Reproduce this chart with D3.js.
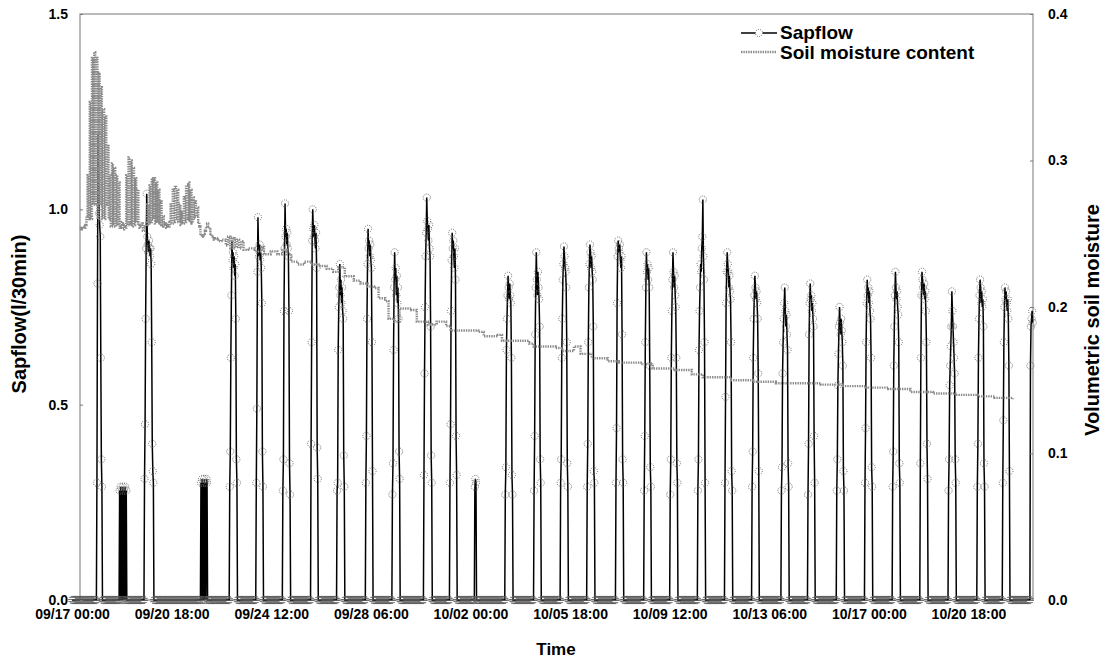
<!DOCTYPE html>
<html><head><meta charset="utf-8">
<script src="https://cdn.jsdelivr.net/npm/d3@7"></script>
<style>
body{margin:0;background:#fff}
svg{display:block}
text{font-family:"Liberation Sans",Arial,sans-serif;font-weight:bold;fill:#000}
</style>
</head><body><svg id="c" width="1108" height="665"></svg>
<script>
// ---------- data ----------
const xTickLabels = ["09/17 00:00","09/20 18:00","09/24 12:00","09/28 06:00","10/02 00:00",
                     "10/05 18:00","10/09 12:00","10/13 06:00","10/17 00:00","10/20 18:00"];
const yLeftTicks = [0.0, 0.5, 1.0, 1.5];
const yRightTicks = [0.0, 0.1, 0.2, 0.3, 0.4];
const startStamp = "09/17 00:00";
const axisStartHour = 7.2;        // left edge of the plot, hours after 09/17 00:00
const endHour = 868.3;            // right edge / last reading

// sapflow: daytime half-hourly readings (l/30min); hour of first reading; all other readings = 0
const sapStartHours = [22.5, 43, 65.5, 116.5, 142.5, 166.5, 190.5, 216, 239.5, 265.5, 289.5, 318, 341.5, 364,
  391.5, 417.5, 441.5, 465.5, 491.5, 517, 540.5, 565.5, 590, 614.5, 641, 665, 691, 716.5, 741.5, 766.5, 792, 818, 841, 866];
const sapDayValues = [
  [0.3,0.81,1.19,1.1,0.99,0.96,0.93,0.62,0.36,0.29],
  [0.28,0,0.29,0,0.28,0,0.29,0,0.28,0,0.29,0,0.28],
  [0.31,0.45,0.72,0.9,1.04,0.93,0.91,0.89,0.92,0.9,0.88,0.9,0.86,0.66,0.4,0.33,0.3],
  [0.3,0,0.31,0,0.3,0,0.31,0,0.3,0,0.31,0.3],
  [0.29,0.38,0.62,0.78,0.92,0.87,0.89,0.85,0.88,0.83,0.86,0.72,0.36,0.3],
  [0.3,0.49,0.84,0.98,0.9,0.88,0.91,0.87,0.89,0.85,0.76,0.38,0.29],
  [0.28,0.36,0.74,0.9,1.015,0.93,0.95,0.91,0.94,0.9,0.88,0.74,0.35,0.27],
  [0.4,0.66,0.92,1.0,0.95,0.93,0.96,0.92,0.9,0.94,0.85,0.39,0.31],
  [0.28,0.3,0.64,0.75,0.8,0.86,0.78,0.82,0.76,0.8,0.74,0.72,0.37,0.29],
  [0.3,0.42,0.72,0.86,0.95,0.9,0.92,0.88,0.91,0.87,0.85,0.66,0.33],
  [0.27,0.35,0.64,0.8,0.89,0.82,0.85,0.78,0.83,0.76,0.8,0.72,0.38,0.31],
  [0.32,0.58,0.75,0.88,0.94,1.03,0.97,0.95,0.92,0.96,0.9,0.88,0.7,0.37,0.3],
  [0.3,0.45,0.74,0.87,0.94,0.9,0.92,0.88,0.85,0.9,0.82,0.42,0.32],
  [0.29,0.31,0.3],
  [0.27,0.34,0.64,0.72,0.78,0.83,0.8,0.77,0.81,0.78,0.76,0.62,0.32,0.27],
  [0.28,0.42,0.68,0.8,0.89,0.82,0.78,0.84,0.8,0.77,0.7,0.36,0.3],
  [0.3,0.36,0.62,0.72,0.82,0.86,0.905,0.88,0.85,0.84,0.8,0.66,0.35,0.29],
  [0.29,0.4,0.66,0.8,0.86,0.91,0.89,0.85,0.88,0.84,0.82,0.7,0.33,0.3],
  [0.3,0.44,0.76,0.88,0.92,0.9,0.89,0.91,0.87,0.85,0.88,0.68,0.36,0.3],
  [0.28,0.42,0.66,0.8,0.89,0.84,0.86,0.82,0.85,0.8,0.6,0.34,0.29],
  [0.27,0.36,0.62,0.74,0.82,0.89,0.84,0.8,0.83,0.78,0.75,0.62,0.35,0.3],
  [0.28,0.36,0.64,0.74,0.8,0.86,0.84,0.9,0.93,1.025,0.88,0.82,0.66,0.3],
  [0.3,0.52,0.76,0.84,0.89,0.86,0.84,0.8,0.83,0.79,0.77,0.66,0.33,0.28],
  [0.29,0.38,0.62,0.72,0.78,0.83,0.8,0.77,0.79,0.76,0.72,0.58,0.33],
  [0.28,0.34,0.58,0.66,0.72,0.76,0.8,0.74,0.7,0.73,0.68,0.64,0.35,0.29],
  [0.27,0.4,0.68,0.76,0.81,0.77,0.78,0.74,0.76,0.72,0.7,0.42,0.3],
  [0.28,0.36,0.55,0.63,0.7,0.75,0.71,0.68,0.72,0.69,0.66,0.6,0.33,0.28],
  [0.3,0.44,0.66,0.76,0.82,0.78,0.8,0.76,0.79,0.74,0.72,0.62,0.34,0.29],
  [0.29,0.38,0.6,0.7,0.78,0.84,0.8,0.77,0.79,0.75,0.73,0.66,0.35,0.3],
  [0.35,0.62,0.78,0.84,0.82,0.8,0.78,0.81,0.77,0.79,0.74,0.66,0.4,0.31],
  [0.28,0.36,0.55,0.6,0.65,0.7,0.79,0.74,0.7,0.66,0.62,0.58,0.36,0.3],
  [0.29,0.4,0.62,0.72,0.78,0.82,0.8,0.76,0.79,0.75,0.77,0.7,0.35,0.29],
  [0.3,0.46,0.66,0.75,0.8,0.77,0.79,0.76,0.74,0.77,0.72,0.6,0.33],
  [0.6,0.7,0.72,0.74,0.71]
];

// soil moisture: hourly readings from 09/17 07:00 for 126 hours, then change points
const soilHourlyStart = 7;
const soilHourlyValues = [
  0.253,0.254,0.253,0.255,0.254,0.256,0.262,
  0.29,0.26,0.34,0.26,0.37,0.27,0.374,0.27,0.37,0.26,0.36,0.27,0.35,0.26,0.335,0.26,0.33,0.27,0.31,0.26,0.29,0.255,
  0.298,0.256,0.295,0.255,0.29,0.256,0.285,0.254,
  0.255,0.258,0.253,0.256,0.254,
  0.29,0.256,0.302,0.257,0.3,0.255,0.295,0.256,0.288,0.258,0.28,
  0.256,0.254,0.255,0.257,0.252,0.254,0.255,0.258,
  0.27,0.256,0.283,0.258,0.288,0.26,0.288,0.257,0.285,0.258,0.28,0.256,0.272,0.255,0.262,
  0.255,0.257,0.254,0.256,0.255,0.258,
  0.27,0.257,0.28,0.258,0.282,0.26,0.28,0.258,0.27,0.256,0.265,0.257,0.275,0.258,0.283,0.26,0.285,0.258,0.28,0.257,0.275,0.26,
  0.272,0.262,0.268,0.258,0.255,0.249,0.248,
  0.249,0.25,0.252,0.255,0.257,0.255,0.253,0.25,0.248,0.247,0.246,0.246,0.247,0.246,0.245
];
const soilLaterHours = [135,139,141,143,145,147,149,151,153,155,159,165,171.5,173.5,179.5,185.5,190,194,198,204,
  210,216,224,230,236,240.5,246.5,254.5,260.5,267,273,277,283,286,291,296,306.5,311.5,321.5,329.5,
  338,342,367,372,384.5,388.5,413,417,437,443,453.5,459.5,469.5,484,494,514,524.5,544.5,560,570,
  595.5,615.5,636,656,676.5,696.5,717,737.5,757.5,778,798,818.5,833.5,850];
const soilLaterValues = [0.246,0.242,0.248,0.24,0.247,0.241,0.246,0.24,0.245,0.239,0.24,0.238,0.241,0.236,0.238,0.236,0.239,0.236,0.231,0.229,
  0.231,0.229,0.228,0.226,0.224,0.227,0.221,0.218,0.216,0.214,0.213,0.206,0.204,0.192,0.19,0.199,0.198,0.19,0.188,0.19,
  0.187,0.184,0.183,0.18,0.181,0.177,0.175,0.173,0.172,0.17,0.173,0.168,0.165,0.163,0.162,0.161,0.158,0.157,0.154,0.152,
  0.15,0.149,0.148,0.148,0.147,0.146,0.145,0.144,0.142,0.141,0.14,0.139,0.138,0.137];

// ---------- build ----------
const YEAR = "2005/";
const parse = d3.timeParse("%Y/%m/%d %H:%M");
const fmt = d3.timeFormat("%m/%d %H:%M");
const t0 = parse(YEAR + startStamp);
const hToDate = h => new Date(t0.getTime() + h * 3600e3);

const L = 80, R = 1033, T = 14, B = 600;
const svg = d3.select("#c");
const x = d3.scaleTime().domain([hToDate(axisStartHour), hToDate(endHour)]).range([L, R]);
const yL = d3.scaleLinear().domain([0, 1.5]).range([B, T]);
const yR = d3.scaleLinear().domain([0, 0.4]).range([B, T]);

// sapflow half-hourly series
const nHalf = Math.floor(endHour * 2);
const sapVals = new Array(nHalf + 1).fill(0);
sapStartHours.forEach((s, i) => {
  sapDayValues[i].forEach((v, j) => { const k = Math.round(s * 2) + j; if (k <= nHalf) sapVals[k] = v; });
});
const sap = sapVals.map((v, k) => ({ t: hToDate(k / 2), v }));

// soil series
const soil = soilHourlyValues.map((v, i) => ({ t: hToDate(soilHourlyStart + i), v }))
  .concat(soilLaterHours.map((h, i) => ({ t: hToDate(h), v: soilLaterValues[i] })));

// frame
svg.append("rect").attr("x", L).attr("y", T).attr("width", R - L).attr("height", B - T)
  .attr("fill", "none").attr("stroke", "#777").attr("stroke-width", 1);

// sapflow line
svg.append("path").datum(sap)
  .attr("d", d3.line().x(d => x(d.t)).y(d => yL(d.v)))
  .attr("fill", "none").attr("stroke", "#000").attr("stroke-width", 1.5);

// sapflow markers
svg.append("g").selectAll("circle").data(sap).join("circle")
  .attr("cx", d => x(d.t)).attr("cy", d => yL(d.v)).attr("r", 3.6)
  .attr("fill", "none").attr("stroke", "#5a5a5a").attr("stroke-width", 0.9)
  .attr("stroke-dasharray", "1,1.2");

// soil moisture line
svg.append("path").datum(soil)
  .attr("d", d3.line().curve(d3.curveStepAfter).x(d => x(d.t)).y(d => yR(d.v)))
  .attr("fill", "none").attr("stroke", "#8a8a8a").attr("stroke-width", 2.4)
  .attr("stroke-dasharray", "1.4,1");

// axes
const axL = svg.append("g").attr("transform", `translate(${L},0)`)
  .call(d3.axisLeft(yL).tickValues(yLeftTicks).tickFormat(d3.format(".1f")).tickSize(-3).tickPadding(12));
const axR = svg.append("g").attr("transform", `translate(${R},0)`)
  .call(d3.axisRight(yR).tickValues(yRightTicks).tickFormat(d3.format(".1f")).tickSize(-3).tickPadding(15));
const axB = svg.append("g").attr("transform", `translate(0,${B})`)
  .call(d3.axisBottom(x).tickValues(xTickLabels.map(s => parse(YEAR + s))).tickFormat(fmt).tickSize(0).tickPadding(9));
[axL, axR, axB].forEach(g => {
  g.select(".domain").remove();
  g.selectAll("line").attr("stroke", "#777");
  g.selectAll("text").attr("font-size", 14).attr("font-family", "Liberation Sans, Arial, sans-serif")
    .attr("font-weight", "bold").attr("fill", "#000");
});

// titles
svg.append("text").attr("transform", "translate(19,314) rotate(-90)").attr("text-anchor", "middle")
  .attr("dy", "0.35em").attr("font-size", 20).text("Sapflow(l/30min)");
svg.append("text").attr("transform", "translate(1092,320) rotate(-90)").attr("text-anchor", "middle")
  .attr("dy", "0.35em").attr("font-size", 20).text("Volumetric soil moisture");
svg.append("text").attr("x", 556).attr("y", 655).attr("text-anchor", "middle")
  .attr("font-size", 17).text("Time");

// legend
const lg = svg.append("g");
lg.append("line").attr("x1", 741).attr("x2", 777).attr("y1", 33).attr("y2", 33).attr("stroke", "#000").attr("stroke-width", 1.5);
lg.append("circle").attr("cx", 759).attr("cy", 33).attr("r", 3.6).attr("fill", "#fff").attr("stroke", "#5a5a5a")
  .attr("stroke-width", 0.9).attr("stroke-dasharray", "1,1.2");
lg.append("line").attr("x1", 741).attr("x2", 777).attr("y1", 52).attr("y2", 52).attr("stroke", "#8a8a8a")
  .attr("stroke-width", 2.4).attr("stroke-dasharray", "1.4,1");
lg.append("text").attr("x", 780).attr("y", 39).attr("font-size", 19).text("Sapflow");
lg.append("text").attr("x", 780).attr("y", 59).attr("font-size", 19).text("Soil moisture content");
</script>
</body></html>
